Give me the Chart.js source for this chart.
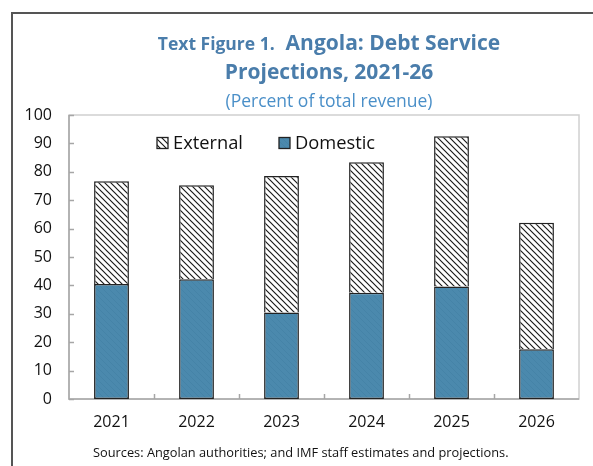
<!DOCTYPE html>
<html>
<head>
<meta charset="utf-8">
<script src="https://cdn.jsdelivr.net/npm/chart.js@4/dist/chart.umd.min.js"></script>
<style>
  body { margin: 0; background: #fff; }
  #wrap { position: relative; width: 593px; height: 466px; overflow: hidden; font-family: "Open Sans", sans-serif; }
  #frame { position: absolute; left: 11px; top: 12px; width: 700px; height: 600px;
           border-left: 2px solid #555; border-top: 2px solid #555; }
  #chart { position: absolute; left: 0; top: 0; }
  .t { position: absolute; left: 0; width: 658px; text-align: center; white-space: nowrap; }
  #t1 { top: 28px; color: #4a7dab; font-weight: 700; font-size: 21px; }
  #t1 .small { font-size: 17.5px; }
  #t2 { top: 57px; color: #4a7dab; font-weight: 700; font-size: 21px; }
  #t3 { top: 88px; color: #4a8fc8; font-size: 17.5px; }
  #src { position: absolute; left: 93px; top: 443px; font-size: 12.8px; color: #111; white-space: nowrap; }
</style>
</head>
<body>
<div id="wrap">
  <div id="frame"></div>
  <canvas id="chart" width="593" height="466"></canvas>
  <div class="t" id="t1"><span class="small">Text Figure 1.</span>&nbsp; Angola: Debt Service</div>
  <div class="t" id="t2">Projections, 2021-26</div>
  <div class="t" id="t3">(Percent of total revenue)</div>
  <div id="src">Sources: Angolan authorities; and IMF staff estimates and projections.</div>
</div>
<script>
// -----------------------------
// DATA
// -----------------------------
const years = ["2021", "2022", "2023", "2024", "2025", "2026"];
const domestic = [40.5, 42.2, 30.5, 37.4, 39.6, 17.5];
const external = [36.2, 33.1, 48.0, 46.0, 52.9, 44.6];
const yTicks = [0, 10, 20, 30, 40, 50, 60, 70, 80, 90, 100];

// -----------------------------
// FILL PATTERNS
// -----------------------------
function hatch(bg, line, width, size) {
  const c = document.createElement("canvas");
  c.width = size; c.height = size;
  const g = c.getContext("2d");
  g.fillStyle = bg;
  g.fillRect(0, 0, size, size);
  g.strokeStyle = line;
  g.lineWidth = width;
  g.beginPath();
  g.moveTo(-1, -1); g.lineTo(size + 1, size + 1);
  g.moveTo(-1, size - 1); g.lineTo(1, size + 1);
  g.moveTo(size - 1, -1); g.lineTo(size + 1, 1);
  g.stroke();
  return g.createPattern(c, "repeat");
}
const ctx = document.getElementById("chart").getContext("2d");
const extFill = hatch("#ffffff", "#1a1a1a", 1.15, 6);
const domFill = hatch("#4b89ad", "#4583a7", 1, 6);

// -----------------------------
// FRAME, INNER TICKS, LEGEND
// -----------------------------
const decor = {
  id: "decor",
  beforeDatasetsDraw(chart) {
    const { ctx, chartArea: a, scales } = chart;
    ctx.save();
    ctx.strokeStyle = "#d0d0d0";
    ctx.lineWidth = 1.5;
    ctx.strokeRect(a.left, a.top, a.right - a.left, a.bottom - a.top);
    ctx.strokeStyle = "#a6a6a6";
    ctx.beginPath();
    ctx.moveTo(a.left, a.top); ctx.lineTo(a.left, a.bottom); ctx.lineTo(a.right, a.bottom);
    yTicks.forEach(v => {
      const y = Math.round(scales.y.getPixelForValue(v)) + 0.5;
      ctx.moveTo(a.left, y); ctx.lineTo(a.left + 5, y);
    });
    for (let i = 1; i < years.length; i++) {
      const x = Math.round((scales.x.getPixelForValue(i - 1) + scales.x.getPixelForValue(i)) / 2) + 0.5;
      ctx.moveTo(x, a.bottom); ctx.lineTo(x, a.bottom - 5);
    }
    ctx.stroke();
    ctx.restore();
  },
  afterDraw(chart) {
    const { ctx, chartArea: a } = chart;
    const items = [chart.data.datasets[1], chart.data.datasets[0]];
    const xs = [a.left + 88, a.left + 210];
    const y = a.top + 28;
    ctx.save();
    ctx.font = "18.3px 'Open Sans', sans-serif";
    ctx.textBaseline = "middle";
    items.forEach((ds, i) => {
      ctx.fillStyle = ds.backgroundColor;
      ctx.fillRect(xs[i], y - 5.5, 11, 11);
      ctx.strokeStyle = "#222";
      ctx.lineWidth = 1.3;
      ctx.strokeRect(xs[i], y - 5.5, 11, 11);
      ctx.fillStyle = "#111";
      ctx.fillText(ds.label, xs[i] + 16, y + 1);
    });
    ctx.restore();
  }
};

// -----------------------------
// CHART
// -----------------------------
new Chart(ctx, {
  type: "bar",
  data: {
    labels: years,
    datasets: [
      {
        label: "Domestic",
        data: domestic,
        backgroundColor: domFill,
        borderColor: "#222",
        borderWidth: 1.5,
        borderSkipped: false,
      },
      {
        label: "External",
        data: external,
        backgroundColor: extFill,
        borderColor: "#222",
        borderWidth: 1.5,
        borderSkipped: "bottom",
      },
    ],
  },
  options: {
    responsive: false,
    animation: false,
    layout: { padding: { left: 0, top: 115, right: 14, bottom: 0 } },
    categoryPercentage: 1,
    barPercentage: 0.41,
    plugins: {
      legend: { display: false },
      title: { display: false },
      tooltip: { enabled: false },
    },
    scales: {
      x: {
        stacked: true,
        grid: { display: false, drawTicks: false },
        border: { display: false },
        ticks: { color: "#111", font: { family: "'Open Sans', sans-serif", size: 16 }, padding: 14 },
        afterFit: (s) => { s.height = 67; },
      },
      y: {
        stacked: true,
        min: 0,
        max: 100,
        grid: { display: false, drawTicks: false },
        border: { display: false },
        ticks: { stepSize: 10, color: "#111", font: { family: "'Open Sans', sans-serif", size: 16 }, padding: 17 },
        afterFit: (s) => { s.width = 69; },
      },
    },
  },
  plugins: [decor],
});
</script>
</body>
</html>
